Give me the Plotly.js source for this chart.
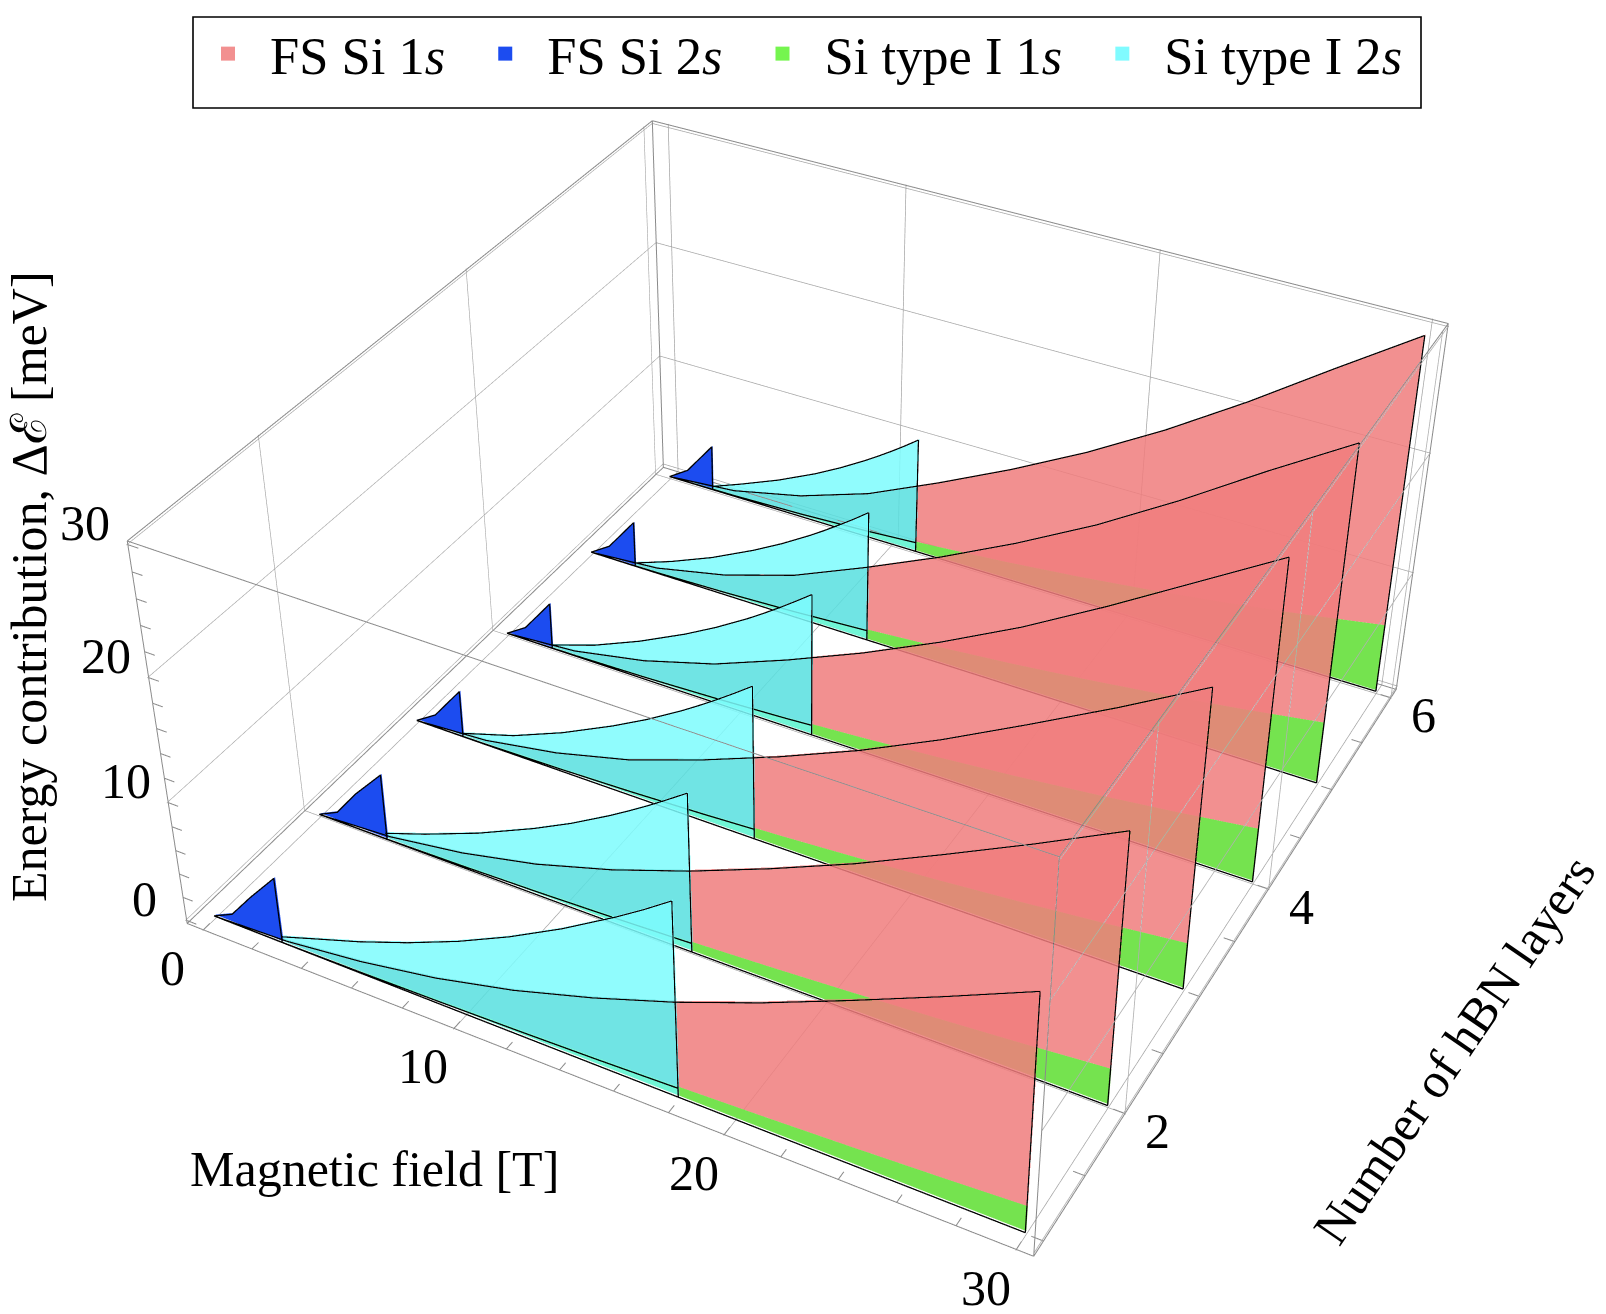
<!DOCTYPE html><html><head><meta charset="utf-8"><script src="https://cdn.plot.ly/plotly-3.0.1.min.js"></script>
<style>html,body{margin:0;padding:0;background:#fff;overflow:hidden;width:1606px;height:1314px}#p{position:absolute;left:-499px;top:-645px;width:2604px;height:2604px}</style></head><body><div id="p"></div>
<script>
// ---- data ----
const layers=[1,2,3,4,5,6];
const fields=[0,3,6,9,12,15,18,21,24,27,30];
const fs1s=[
[0,.28,1.05,2.18,3.73,5.69,7.94,10.5,13.3,16.2,19.2],
[0,.35,1.29,2.7,4.61,6.9,9.5,12.3,15.4,18.6,21.95],
[0,.4,1.5,3.12,5.35,7.85,10.6,13.7,17.1,20.6,24.3],
[0,.45,1.66,3.46,5.91,8.6,11.6,14.9,18.6,22.5,26.4],
[0,.48,1.81,3.77,6.44,9.3,12.45,15.9,19.8,24,28],
[0,.52,1.91,3.99,6.83,9.87,13.19,16.9,21,25.4,29.7]];
const si1s=[
[0,.02,.08,.19,.34,.52,.76,1.03,1.34,1.7,2.1],
[0,.03,.12,.27,.48,.75,1.08,1.47,1.92,2.43,3],
[0,.04,.15,.34,.61,.95,1.37,1.86,2.43,3.08,3.8],
[0,.05,.18,.41,.72,1.13,1.62,2.2,2.88,3.65,4.5],
[0,.05,.21,.47,.83,1.3,1.87,2.55,3.33,4.21,5.2],
[0,.06,.23,.52,.93,1.45,2.09,2.84,3.71,4.7,5.8]];
const si2sFields=[
[2.8,4,6,8,10,12,14,15,16,17,18],
[2.8,4.5,6.75,9,10.5,12,12.75,13.5,14.25,15],
[2,4.2,6.3,8.4,9.8,11.2,11.9,12.6,13.3,14],
[2,3.9,5.85,7.8,9.1,10.4,11.05,11.7,12.35,13],
[2,3.63,5.45,7.26,8.47,9.68,10.29,10.89,11.5,12.1],
[2,3.33,5,6.66,7.77,8.88,9.44,9.99,10.55,11.1]];
const si2s=[
[.5,1.35,2.75,4.34,6.13,8.18,10.5,11.8,13.1,14.5,16],
[.5,1.75,3.6,5.75,7.35,9.15,10.12,11.13,12.2,13.3],
[.3,1.7,3.5,5.62,7.19,8.94,9.89,10.88,11.92,13],
[.3,1.6,3.3,5.27,6.75,8.39,9.28,10.21,11.19,12.2],
[.3,1.5,3.05,4.88,6.25,7.77,8.6,9.46,10.36,11.3],
[.3,1.35,2.75,4.36,5.59,6.95,7.69,8.45,9.26,10.1]];
const fs2sFields=[[0,.8,1.7,2.8],[0,.8,1.7,2.85],[0,.85,2],[0,.85,2],[0,.85,2],[0,.85,2]];
const fs2s=[[0,.8,3,5.5],[0,.8,3.1,5.6],[0,1.1,4],[0,1.1,4],[0,1.1,4],[0,1.1,4]];
const legendNames=['FS Si 1<i>s</i>\u00a0','FS Si 2<i>s</i>\u00a0','Si type I 1<i>s</i>\u00a0','Si type I 2<i>s</i>'];
const legendColors=['#f29090','#1c4cf0','#75f54f','#80fbff'];
const fieldTicks=[0,10,20,30], layerTicks=[2,4,6], energyTicks=[0,10,20,30];
const xTitle='Magnetic field [T]', yTitle='Number of hBN layers', zTitle='Energy contribution, Δℰ [meV]';
// ---- view ----
const S=2604,L=499,T=645;
const X=[-0.7,30.6],Y=[0.88,6.1],Z=[-0.3,30.3];
const px=v=>(v+L)/S, py=v=>1-(v+T)/S;
const FONT='Liberation Serif';
function at(xs,ys,b){for(let i=1;i<xs.length;i++)if(b<=xs[i]){const t=(b-xs[i-1])/(xs[i]-xs[i-1]);return ys[i-1]+t*(ys[i]-ys[i-1])}return ys[ys.length-1]}
function span(a,b,extra){const s=new Set([a,b]);(extra||fields).forEach(v=>{if(v>a&&v<b)s.add(v)});return [...s].sort((p,q)=>p-q)}
const lit={ambient:1,diffuse:0,specular:0,fresnel:0,roughness:1};
function band(bs,lo,hi,n,color,op){const x=[],y=[],z=[],i=[],j=[],k=[];bs.forEach((b,m)=>{x.push(b,b);y.push(n,n);z.push(lo(b),hi(b));if(m){const q=2*m;i.push(q-2,q-2);j.push(q,q+1);k.push(q+1,q-1)}});
 return {type:'mesh3d',x,y,z,i,j,k,color,opacity:op,flatshading:true,lighting:lit,hoverinfo:'skip',showlegend:false}}
const data=[];
// frame, kept a hair inside the axis ranges so it is not clipped
const e=.03,fX=[X[0]+e,X[1]-e],fY=[Y[0]+.006,Y[1]-.006],fZ=[Z[0]+e,Z[1]-e];
const fx=[],fy=[],fz=[],gx=[],gy=[],gz=[];
const seg=(a,b,c,A,B,C,ax=fx,ay=fy,az=fz)=>{ax.push(a,A,null);ay.push(b,B,null);az.push(c,C,null)};
fX.forEach(a=>fY.forEach(b=>seg(a,b,fZ[0],a,b,fZ[1])));
fX.forEach(a=>fZ.forEach(c=>seg(a,fY[0],c,a,fY[1],c)));
fY.forEach(b=>fZ.forEach(c=>seg(fX[0],b,c,fX[1],b,c)));
layerTicks.forEach(n=>seg(fX[1],n,fZ[0],fX[1],n,fZ[1],gx,gy,gz));
energyTicks.forEach(v=>seg(fX[1],fY[0],v,fX[1],fY[1],v,gx,gy,gz));
for(let b=0;b<=30;b+=2)seg(b,fY[0],fZ[0],b,fY[0]+.06,fZ[0]);
for(let v=0;v<=30;v+=2)seg(fX[0],fY[0],v,fX[0]+.4,fY[0],v);
for(let n=1;n<=6;n+=.5)seg(fX[1],n,fZ[0],fX[1]-.4,n,fZ[0]);
data.push({type:'scatter3d',mode:'lines',x:fx,y:fy,z:fz,line:{color:'#8a8a8a',width:2},hoverinfo:'skip',showlegend:false});
data.push({type:'scatter3d',mode:'lines',x:gx,y:gy,z:gz,line:{color:'#b0b0b0',width:1.6},hoverinfo:'skip',showlegend:false});
// sheets, back to front
for(let q=5;q>=0;q--){const n=layers[q],cb=si2sFields[q],cut=cb[cb.length-1],b0=cb[0];
 const red=b=>at(fields,fs1s[q],b),grn=b=>at(fields,si1s[q],b),zero=()=>0,cy=b=>at(cb,si2s[q],b);
 data.push(band(span(0,cut),zero,grn,n,'rgb(112,245,213)',1));
 data.push(band(span(cut,30),zero,grn,n,'rgb(117,227,79)',1));
 data.push(band(fs2sFields[q],zero,b=>at(fs2sFields[q],fs2s[q],b),n,'rgb(28,76,240)',1));
 data.push(band(span(cut,30),grn,red,n,'rgb(240,125,125)',.85));
 data.push(band(span(b0,cut),grn,red,n,'rgb(87,224,224)',.85));
 data.push(band(span(b0,cut,cb.concat(fields)),red,cy,n,'rgb(125,252,253)',.85));
 const lx=[],ly=[],lz=[],yn=n-.012;
 const poly=(bs,f)=>{bs.forEach(b=>{lx.push(b);ly.push(yn);lz.push(f(b))});lx.push(null);ly.push(null);lz.push(null)};
 poly([0,30],zero);poly(span(0,30),red);poly(span(0,cut),grn);poly(cb,cy);
 seg(30,yn,0,30,yn,red(30),lx,ly,lz);seg(cut,yn,0,cut,yn,at(cb,si2s[q],cut),lx,ly,lz);
 const bb=fs2sFields[q],bz=fs2s[q];bb.forEach((b,m)=>{lx.push(b);ly.push(yn);lz.push(bz[m])});lx.push(bb[bb.length-1]);ly.push(yn);lz.push(0);lx.push(null);ly.push(null);lz.push(null);
 data.push({type:'scatter3d',mode:'lines',x:lx,y:ly,z:lz,line:{color:'#000',width:2.6},hoverinfo:'skip',showlegend:false});
}
legendNames.forEach((t,m)=>data.push({type:'scatter3d',mode:'markers',x:[null],y:[null],z:[null],marker:{symbol:'square',size:14,color:legendColors[m]},name:t}));
const axis=(r,v)=>({range:r,tickmode:'array',tickvals:v,ticktext:v.map(String),showticklabels:false,showgrid:true,gridcolor:'#a4a4a4',gridwidth:1.5,title:{text:''},showbackground:false,zeroline:false,showspikes:false,showline:false});
const tf={family:FONT,size:50,color:'#000'};
const sa=[],lab=(o)=>Object.assign({showarrow:false,font:tf,xanchor:'center',yanchor:'middle'},o);
fieldTicks.forEach(b=>sa.push(lab({x:b,y:Y[0],z:Z[0],text:String(b),xshift:-30,yshift:-37})));
layerTicks.forEach(n=>sa.push(lab({x:X[1],y:n,z:Z[0],text:String(n),xshift:32,yshift:-17})));
energyTicks.forEach(v=>sa.push(lab({x:X[0],y:Y[0],z:v,text:String(v),xshift:-41,yshift:22})));
const layout={width:S,height:S,margin:{l:0,r:0,t:0,b:0,pad:0},paper_bgcolor:'#fff',
 legend:{orientation:'h',x:px(186),xanchor:'left',y:py(54),yanchor:'middle',borderwidth:0,bgcolor:'rgba(0,0,0,0)',itemwidth:74,font:{family:FONT,size:52.5,color:'#000'}},
 shapes:[{type:'rect',xref:'paper',yref:'paper',x0:px(193),x1:px(1421),y0:py(17),y1:py(108),line:{color:'#000',width:1.6},fillcolor:'rgba(0,0,0,0)'}],
 annotations:[
 lab({xref:'paper',yref:'paper',x:px(374),y:py(1169),text:xTitle}),
 lab({xref:'paper',yref:'paper',x:px(29),y:py(587),text:zTitle,textangle:-90}),
 lab({xref:'paper',yref:'paper',x:px(1454),y:py(1050),text:yTitle,textangle:-55.6})],
 scene:{domain:{x:[0,1],y:[0,1]},aspectmode:'manual',aspectratio:{x:2.0054,y:2.0245,z:1},
  camera:{eye:{x:2.5654,y:-4.8353,z:4.0021},center:{x:-.0531,y:.018,z:-.1248},up:{x:0,y:0,z:1},projection:{type:'perspective'}},
  xaxis:axis(X,fieldTicks),yaxis:axis(Y,layerTicks),zaxis:axis(Z,energyTicks),annotations:sa}};
Plotly.newPlot('p',data,layout,{displayModeBar:false});
</script></body></html>
